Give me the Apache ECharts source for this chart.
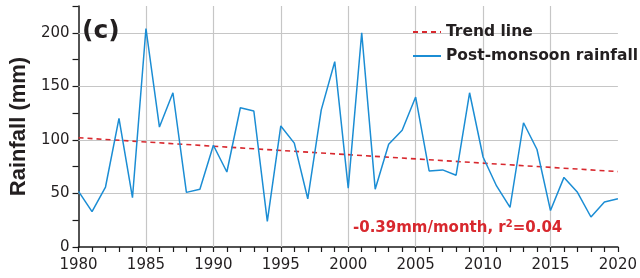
<!DOCTYPE html>
<html>
<head>
<meta charset="utf-8">
<script src="https://cdn.jsdelivr.net/npm/echarts@6/dist/echarts.min.js"></script>
<style>
  html, body { margin: 0; padding: 0; background: #fff; }
  #chart { width: 640px; height: 278px; }
</style>
</head>
<body>
<div id="chart"></div>
<script>
// yearly post-monsoon rainfall (mm)
let years = []
for (let y = 1980; y <= 2020; y++) years.push(y)
let rainfall = [
  52, 33, 56, 120, 46, 204, 112, 144, 51, 54,
  95, 70, 130, 127, 24, 113, 97, 45, 128, 173,
  55, 200, 54, 96, 109, 140, 71, 72, 67, 144,
  84, 57, 37, 116, 91, 34, 65, 51, 28, 42,
  45
]
// trend line end points (1980, 2020)
let trendYears = [1980, 2020]
let trendValues = [102, 70.4]
let yGridValues = [50, 100, 150, 200]
let xGridValues = [1985, 1990, 1995, 2000, 2005, 2010, 2015]

let textColor = '#231f20'
let redColor = '#d8282e'
let blueColor = '#1b8dd4'
let gridColor = '#c6c6c6'

let chartDom = document.getElementById('chart')
let myChart = echarts.init(chartDom)

let gridLines = []
for (let v of yGridValues) gridLines.push({yAxis: v})
for (let v of xGridValues) gridLines.push({xAxis: v})

let option = {
  animation: false,
  title: [
    {
      text: '(c)',
      left: 82,
      top: 19,
      padding: 0,
      textStyle: {fontFamily: 'DejaVu Sans', fontWeight: 'bold', fontSize: 25, color: textColor}
    },
    {
      text: '{a|-0.39mm/month, r}{s|2}{a|=0.04}',
      left: 353,
      top: 219,
      padding: 0,
      textStyle: {
        rich: {
          a: {fontFamily: 'DejaVu Sans', fontWeight: 'bold', fontSize: 15, color: redColor, lineHeight: 18},
          s: {fontFamily: 'DejaVu Sans', fontWeight: 'bold', fontSize: 10, color: redColor, lineHeight: 12, verticalAlign: 'top'}
        }
      }
    }
  ],
  legend: {
    orient: 'vertical',
    left: 412,
    top: 24,
    padding: 0,
    itemWidth: 28,
    itemHeight: 14,
    itemGap: 8,
    itemStyle: {opacity: 0},
    textStyle: {fontFamily: 'DejaVu Sans', fontWeight: 'bold', fontSize: 15.5, color: textColor, lineHeight: 16},
    data: ['Trend line', 'Post-monsoon rainfall']
  },
  grid: {left: 77, right: 20, top: 6, bottom: 31},
  xAxis: {
    type: 'value',
    min: 1980,
    max: 2020,
    interval: 5,
    axisLine: {lineStyle: {color: '#1a1a1a', width: 1.5}},
    axisTick: {length: 5, lineStyle: {color: '#1a1a1a', width: 1.2}},
    minorTick: {show: true, splitNumber: 5, length: 5, lineStyle: {color: '#1a1a1a', width: 1.2}},
    splitLine: {show: false},
    axisLabel: {
      fontFamily: 'DejaVu Sans',
      fontSize: 15,
      color: textColor,
      margin: 11,
      formatter: function (value) {
        return String(value)
      }
    }
  },
  yAxis: {
    type: 'value',
    min: 0,
    max: 225,
    interval: 25,
    name: 'Rainfall (mm)',
    nameLocation: 'middle',
    nameGap: 48,
    nameTextStyle: {fontFamily: 'Liberation Sans', fontWeight: 'bold', fontSize: 22, color: textColor},
    axisLine: {show: true, lineStyle: {color: '#1a1a1a', width: 1.5}},
    axisTick: {show: true, length: 6, lineStyle: {color: '#1a1a1a', width: 1.2}},
    splitLine: {show: false},
    axisLabel: {
      fontFamily: 'DejaVu Sans',
      fontSize: 15,
      color: textColor,
      margin: 9,
      formatter: function (value) {
        return value % 50 === 0 && value <= 200 ? String(value) : ''
      }
    }
  },
  series: [
    {
      name: 'Trend line',
      type: 'line',
      symbol: 'none',
      z: 3,
      data: trendYears.map(function (y, i) { return [y, trendValues[i]] }),
      lineStyle: {color: redColor, width: 1.6, type: [5, 4]},
      itemStyle: {color: redColor},
      markLine: {
        silent: true,
        symbol: 'none',
        label: {show: false},
        z: 1,
        lineStyle: {color: gridColor, width: 1.2, type: 'solid'},
        data: gridLines
      }
    },
    {
      name: 'Post-monsoon rainfall',
      type: 'line',
      symbol: 'none',
      z: 4,
      data: years.map(function (y, i) { return [y, rainfall[i]] }),
      lineStyle: {color: blueColor, width: 1.5},
      itemStyle: {color: blueColor}
    }
  ]
}
myChart.setOption(option, true)
</script>
</body>
</html>
